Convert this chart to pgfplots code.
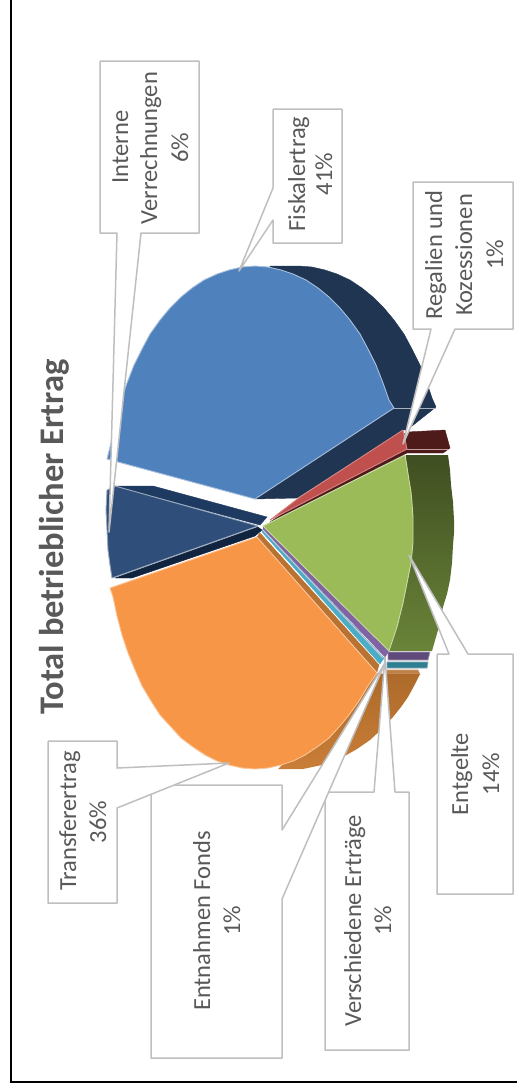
\documentclass[border=0pt]{standalone}
\usepackage{fontspec}
\setmainfont{Carlito}
\usepackage{pgfplots}
\pgfplotsset{compat=1.18}
\definecolor{cBlue}{HTML}{4F81BD}
\definecolor{cBlueD}{HTML}{1F3552}
\definecolor{cNavy}{HTML}{2F4F7A}
\definecolor{cNavyD}{HTML}{1F3A60}
\definecolor{cNavyDD}{HTML}{10233F}
\definecolor{cRed}{HTML}{C0504D}
\definecolor{cRedD}{HTML}{4F1A1A}
\definecolor{cGreen}{HTML}{9BBB59}
\definecolor{cGreenT}{HTML}{3F4E21}
\definecolor{cGreenB}{HTML}{6A8439}
\definecolor{cOrange}{HTML}{F79646}
\definecolor{cOrangeT}{HTML}{AD6A2A}
\definecolor{cOrangeB}{HTML}{C97E38}
\definecolor{cPurple}{HTML}{8064A2}
\definecolor{cPurpleD}{HTML}{5F4A7B}
\definecolor{cCyan}{HTML}{4BACC6}
\definecolor{cTeal}{HTML}{2F7F93}
\definecolor{cBrown}{HTML}{B87333}
\definecolor{cBox}{HTML}{BFBFBF}
\definecolor{cText}{HTML}{595959}
\newcommand{\lab}[3]{\node[rotate=90,anchor=base,inner sep=0pt,text=cText,font=\fontsize{24.5}{28}\selectfont] at (axis cs:#1,#2) {#3};}
\tikzset{box/.style={fill=white,draw=cBox,line width=1.5pt,line join=round},
 edge/.style={draw=#1,line width=0.9pt,line join=round}}
\begin{document}
\begin{tikzpicture}
\begin{axis}[name=a,scale only axis,width=517pt,height=1088pt,xmin=0,xmax=517,ymin=0,ymax=1088,y dir=reverse,hide axis,no markers]
% frame
\addplot[black,line width=2.6pt] coordinates {(11,0)(11,1082)(517,1082)};
% --- sides ---
\addplot[fill=cBlueD,draw=cBlueD] coordinates {(270,266)(299,266)(312,267)(325,270)(337,274)(350,280)(362,288)(373,297)(384,308)(394,320)(404,334)(412,349)(420,365)(427,383)(432,398)(436,407)(407,430)(403,430)(297,498)(255,499)(270,266)};
\addplot[draw=cBox!80!cBlue,line width=0.9pt] coordinates {(394,408)(436,408)};
\addplot[fill=cRedD,draw=cRedD] coordinates {(407,432)(445,430)(450,448)(443,453)(407,453)(270,522)(407,432)};
\addplot[draw=cBox!70!cRed,line width=0.8pt] coordinates {(407,449)(449,449)};
\addplot[shade,top color=cGreenT,bottom color=cGreenB,draw=none] coordinates {(406,455)(448,455)(450,470)(451,485)(453,502)(454,520)(454,533)(453,545)(452,563)(450,580)(447,594)(443,607)(438,630)(432,651)(388,651)(406,455)};
\addplot[fill=cPurpleD,draw=cBox!60!cPurple,line width=0.8pt] coordinates {(388,652)(430,652)(428,660)(388,660)(388,652)};
\addplot[fill=cTeal,draw=cBox!60!cTeal,line width=0.8pt] coordinates {(387,662)(428,662)(427,668)(387,668)(387,662)};
\addplot[fill=cBrown!90,draw=cBrown!70!white,line width=0.6pt] coordinates {(387,670)(418,670)(420,674)(386,674)(387,670)};
\addplot[shade,top color=cOrangeT,bottom color=cOrangeB,draw=none] coordinates {(377,673)(385,674)(420,674)(414,686)(408,697)(401,707)(393,717)(382,729)(370,740)(357,749)(343,757)(322,765)(303,769)(278,769)(377,673)};
% --- faces ---
\addplot[fill=cBlue,edge=cBlue!50!white] coordinates {(255,499)(394,408)(389,400)(383,383)(376,365)(368,349)(360,334)(350,320)(340,308)(329,297)(318,288)(306,280)(293,274)(281,270)(268,267)(255,266)(242,267)(229,270)(217,274)(204,280)(192,288)(181,297)(170,308)(160,320)(150,334)(142,349)(134,365)(127,383)(121,400)(116,419)(112,439)(107,459)(255,499)};
\addplot[fill=cNavyD,draw=cNavyD] coordinates {(115,486)(153,486)(267,517)(260,525)(115,486)};
\addplot[fill=cNavyDD,draw=cNavyDD] coordinates {(115,578)(132,578)(255,536)(262,530)(258,527)(115,578)};
\addplot[fill=cNavy,edge=cNavy!50!white] coordinates {(115,486)(258,526)(112,578)(110,565)(108,550)(107,530)(106,510)(107,490)(115,486)};
\addplot[fill=cRed,edge=cRed!70!white] coordinates {(403,430)(407,449)(270,520)(300,497)(403,430)};
\addplot[fill=cBrown,draw=cBrown] coordinates {(260,533)(379,665)(377,672)(257,537)(260,533)};
\addplot[fill=cCyan,draw=cCyan] coordinates {(263,529)(384,658)(380,664)(262,532)(263,529)};
\addplot[fill=cPurple,draw=cPurple] coordinates {(263,526)(389,651)(385,657)(263,529)(263,526)};
\addplot[draw=cPurple!35!white,line width=0.9pt] coordinates {(263,530)(383,658)};
\addplot[fill=cGreen,edge=cGreen!55!white] coordinates {(263,526)(405,455)(407,467)(409,480)(411,492)(412,503)(413,517)(413,530)(413,542)(412,553)(411,563)(409,573)(406,588)(403,603)(400,615)(397,627)(393,639)(389,651)(263,526)};
\addplot[fill=cOrange,edge=cOrange!55!white] coordinates {(257,537)(377,673)(368,686)(359,701)(349,715)(339,727)(329,738)(317,747)(305,755)(293,761)(281,765)(268,768)(255,769)(242,768)(229,765)(217,761)(205,755)(193,747)(181,738)(171,727)(160,715)(151,701)(142,686)(135,670)(128,653)(122,635)(117,616)(113,597)(110,588)(257,537)};
% --- callouts ---
\addplot[box] coordinates {(100,61)(199,61)(199,233)(141,233)(109,532)(117,233)(100,233)(100,61)};
\addplot[box] coordinates {(273,109)(342,109)(342,243)(273,243)(273,220)(239,271)(273,188)(273,109)};
\addplot[box] coordinates {(413,182)(513,182)(513,329)(455,329)(403,444)(431,329)(413,329)(413,182)};
\addplot[box] coordinates {(437,654)(449,654)(409,555)(468,654)(513,654)(513,894)(437,894)(437,654)};
\addplot[box] coordinates {(325,792)(374,792)(385,657)(395,792)(409,792)(409,1050)(325,1050)(325,792)};
\addplot[box] coordinates {(151,785)(282,785)(282,830)(385,663)(282,899)(282,1058)(151,1058)(151,785)};
\addplot[box] coordinates {(48,741)(117,741)(117,768)(229,763)(117,808)(117,903)(48,903)(48,741)};
% --- texts ---
\lab{128}{147}{Interne}
\lab{157}{148}{Verrechnungen}
\lab{188}{148}{6\%}
\lab{305}{174}{Fiskalertrag}
\lab{332}{174}{41\%}
\lab{442}{255}{Regalien und}
\lab{472}{255}{Kozessionen}
\lab{503}{255}{1\%}
\lab{76}{821}{Transferertrag}
\lab{106}{822}{36\%}
\lab{210}{921}{Entnahmen Fonds}
\lab{240}{921}{1\%}
\lab{361}{921}{Verschiedene Erträge}
\lab{391}{921}{1\%}
\lab{468}{774}{Entgelte}
\lab{499}{774}{14\%}
\node[rotate=90,anchor=base,inner sep=0pt,text=cText,font=\fontsize{34.5}{38}\selectfont\bfseries] at (axis cs:63,537) {Total betrieblicher Ertrag};
\end{axis}
\pgfresetboundingbox
\path[use as bounding box] (a.south west) rectangle (a.north east);
\end{tikzpicture}
\end{document}
